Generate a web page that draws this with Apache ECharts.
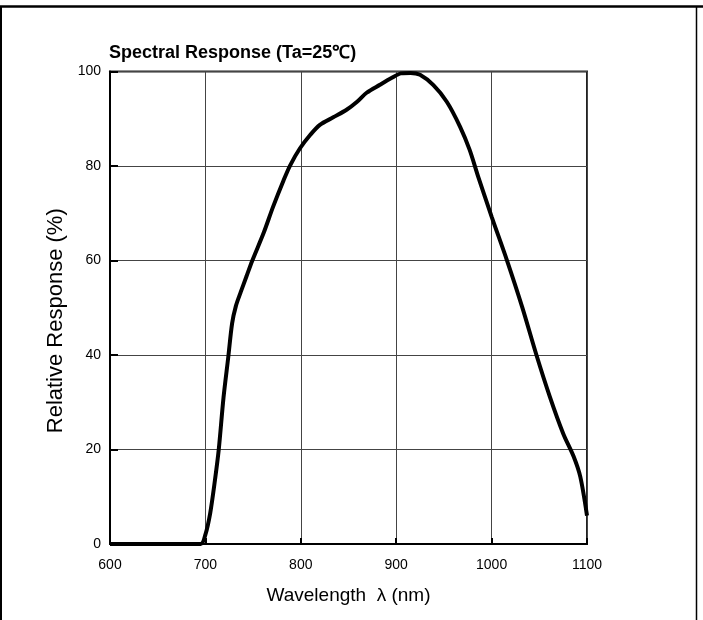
<!DOCTYPE html>
<html>
<head>
<meta charset="utf-8">
<script src="https://cdn.jsdelivr.net/npm/echarts@6/dist/echarts.min.js"></script>
<style>
html,body{margin:0;padding:0;background:#fff;}
#chart{width:703px;height:620px;}
</style>
</head>
<body>
<div id="chart"></div>
<script>
// Wavelength (nm)
var wavelengths = [600, 650, 695, 700, 705, 710, 714, 719, 724, 728, 732, 737, 743, 749, 761, 771, 782, 789, 799, 810, 820, 834, 848, 859, 869, 883, 895, 905, 915, 925, 939, 953, 967, 977, 986, 1000, 1016, 1032, 1047, 1061, 1075, 1086, 1093, 1100];
// Relative response (%)
var responses = [0, 0, 0, 2, 6.5, 13.5, 20, 31, 39.6, 46.7, 50.4, 53.3, 56.6, 59.9, 65.8, 71.4, 77, 80.2, 83.7, 86.6, 88.7, 90.3, 91.9, 93.6, 95.5, 97.2, 98.6, 99.6, 99.7, 99.3, 97.1, 93.6, 88.3, 83.4, 77.7, 69.3, 60.1, 50.2, 40, 31.2, 23.4, 18.5, 14.2, 6];
var xTicks = [600, 700, 800, 900, 1000, 1100];
var yTicks = [0, 20, 40, 60, 80, 100];

var font = "'Liberation Sans', Arial, sans-serif";

var seriesData = wavelengths.map(function (w, i) { return [w, responses[i]]; });

var chart = echarts.init(document.getElementById('chart'));
chart.setOption({
  backgroundColor: '#fff',
  animation: false,
  title: {
    text: 'Spectral Response (Ta=25\u2103)',
    left: 109,
    top: 44,
    padding: 0,
    textStyle: { fontFamily: font, fontWeight: 'bold', fontSize: 18, color: '#000' }
  },
  grid: {
    left: 110, top: 71.5, right: 116, bottom: 76,
    show: true, borderColor: '#222', borderWidth: 2, backgroundColor: 'transparent'
  },
  xAxis: {
    type: 'value',
    min: xTicks[0], max: xTicks[xTicks.length - 1], interval: 100,
    name: 'Wavelength  \u03bb (nm)',
    nameLocation: 'middle',
    nameGap: 42,
    nameTextStyle: { fontFamily: font, fontSize: 19, color: '#000' },
    axisLine: { show: true, lineStyle: { color: '#000', width: 2 } },
    axisTick: { show: true, inside: true, length: 6, lineStyle: { color: '#000', width: 2 } },
    axisLabel: { fontFamily: font, fontSize: 14, color: '#000', margin: 14, formatter: function (v) { return String(v); } },
    splitLine: { show: true, lineStyle: { color: '#444', width: 1 } }
  },
  yAxis: {
    type: 'value',
    min: yTicks[0], max: yTicks[yTicks.length - 1], interval: 20,
    name: 'Relative Response (%)',
    nameLocation: 'middle',
    nameGap: 38,
    nameTextStyle: { fontFamily: font, fontSize: 22, color: '#000', padding: [0, 26, 0, 0] },
    axisLine: { show: true, lineStyle: { color: '#000', width: 2 } },
    axisTick: { show: true, inside: true, length: 8, lineStyle: { color: '#000', width: 2 } },
    axisLabel: { fontFamily: font, fontSize: 14, color: '#000', margin: 9, formatter: function (v) { return String(v); } },
    splitLine: { show: true, lineStyle: { color: '#444', width: 1 } }
  },
  graphic: [
    { type: 'line', shape: { x1: 0, y1: 6.5, x2: 703, y2: 6.5 }, style: { stroke: '#000', lineWidth: 2.5 } },
    { type: 'line', shape: { x1: 1, y1: 6, x2: 1, y2: 620 }, style: { stroke: '#000', lineWidth: 2 } },
    { type: 'line', shape: { x1: 696.5, y1: 6, x2: 696.5, y2: 620 }, style: { stroke: '#000', lineWidth: 1.5 } }
  ],
  series: [{
    type: 'line',
    data: seriesData,
    smooth: 0.3,
    showSymbol: false,
    clip: true,
    lineStyle: { color: '#000', width: 4 }
  }]
});
</script>
</body>
</html>
